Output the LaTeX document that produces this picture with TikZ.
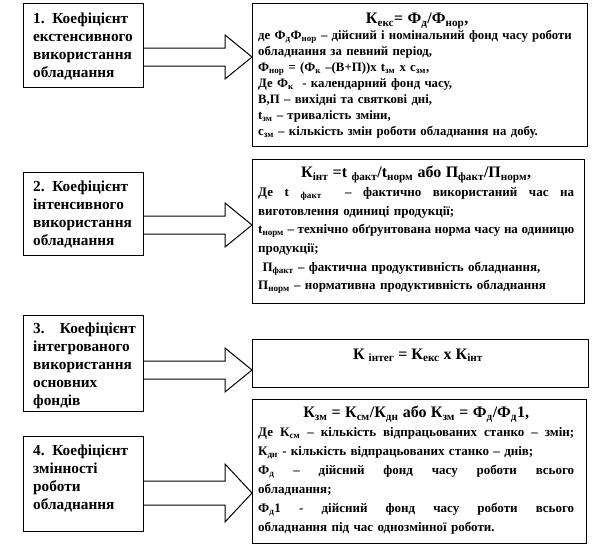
\documentclass[tikz,border=0pt]{standalone}
\usepackage{fontspec}
\setmainfont{Liberation Serif}
\usetikzlibrary{calc}
\newcommand\lo[1]{\textsubscript{#1}}
\newcommand\jl[2]{\leavevmode\hbox to #1{\spaceskip=0.25em plus 1fil\relax #2}}
\newcommand\blockarrow[5]{%
  \coordinate (tmpy) at (0,#3);
  \draw[barrow] ($(#1.east|-tmpy)+(0,-#4)$) -- ($(#2.west|-tmpy)+(-27,-#4)$)
    -- ($(#2.west|-tmpy)+(-27,-#5)$) -- (#2.west|-tmpy)
    -- ($(#2.west|-tmpy)+(-27,#5)$) -- ($(#2.west|-tmpy)+(-27,#4)$)
    -- ($(#1.east|-tmpy)+(0,#4)$);}
\begin{document}
\begin{tikzpicture}[x=1pt,y=-1pt,
  box/.style={draw, line width=1pt, inner sep=0, anchor=north west},
  barrow/.style={draw, line width=1pt, fill=white},
  ltext/.style={anchor=north west, inner sep=0, align=left, text width=110pt,
    font=\fontsize{15.3}{17.9}\selectfont\bfseries},
  rtext/.style={anchor=north west, inner sep=0, align=left, text width=318pt,
    font=\fontsize{12.8}{16}\selectfont\bfseries},
  rtextb/.style={rtext, font=\fontsize{13}{18.7}\selectfont\bfseries},
  rtextc/.style={rtext, font=\fontsize{13}{19}\selectfont\bfseries},
  title/.style={font=\fontsize{16}{16}\selectfont\bfseries}]
\useasboundingbox (0,0) rectangle (612,546);
\fill[white] (0,0) rectangle (612,546);
% left boxes
\node[box, minimum width=120pt, minimum height=84pt] (l1) at (23,3) {};
\node[box, minimum width=120pt, minimum height=83pt] (l2) at (23,172) {};
\node[box, minimum width=120pt, minimum height=96pt] (l3) at (23,315) {};
\node[box, minimum width=120pt, minimum height=95pt] (l4) at (23,436) {};
% right boxes
\node[box, minimum width=335pt, minimum height=143pt] (r1) at (252,3) {};
\node[box, minimum width=332pt, minimum height=144pt] (r2) at (252,159) {};
\node[box, minimum width=336pt, minimum height=48pt] (r3) at (252,339) {};
\node[box, minimum width=334pt, minimum height=144pt] (r4) at (252,399) {};
% left texts
\node[ltext] (t1) at (33,13) {1. Коефіцієнт\\екстенсивного\\використання\\обладнання};
\node[ltext] (t2) at (33,181) {2. Коефіцієнт\\інтенсивного\\використання\\обладнання};
\node[ltext] (t3) at (33,323) {\jl{100pt}{3.\ \ \ \ Коефіцієнт}\\інтегрованого\\використання\\основних\\фондів};
\node[ltext] (t4) at (33,445) {4. Коефіцієнт\\змінності\\роботи\\обладнання};
% right texts
\node[rtext] (s1) at (258,13) {%
\makebox[318pt][c]{\fontsize{16}{16}\selectfont К\lo{екс}= Ф\lo{д}/Ф\lo{нор},}\\
де Ф\lo{д}Ф\lo{нор} – дійсний і номінальний фонд часу роботи\\
обладнання за певний період,\\
Ф\lo{нор} = (Ф\lo{к} –(В+П))х t\lo{зм} х с\lo{зм},\\
Де Ф\lo{к}\ \ - календарний фонд часу,\\
В,П – вихідні та святкові дні,\\
t\lo{зм} – тривалість зміни,\\
с\lo{зм} – кількість змін роботи обладнання на добу.};
\node[rtextb] (s2) at (258,166) {%
\makebox[316pt][c]{\fontsize{16}{16}\selectfont К\lo{інт} =t \lo{факт}/t\lo{норм} або П\lo{факт}/П\lo{норм},}\\
\jl{316pt}{Де t \lo{факт} \ – фактично використаний час на}\\
виготовлення одиниці продукції;\\
\jl{316pt}{t\lo{норм} – технічно обґрунтована норма часу на одиницю}\\
продукції;\\
\ П\lo{факт} – фактична продуктивність обладнання,\\
П\lo{норм} – нормативна продуктивність обладнання};
\node[anchor=base, inner sep=0, title] (s3) at (418,359) {К \lo{інтег} = К\lo{екс} х К\lo{інт}};
\node[rtextc] (s4) at (258,406) {%
\makebox[316pt][c]{\fontsize{16}{16}\selectfont К\lo{зм} = К\lo{см}/К\lo{дн} або К\lo{зм} = Ф\lo{д}/Ф\lo{д}1,}\\
\jl{316pt}{Де К\lo{см} – кількість відпрацьованих станко – змін;}\\
К\lo{дн} - кількість відпрацьованих станко – днів;\\
\jl{316pt}{Ф\lo{д} – дійсний фонд часу роботи всього}\\
обладнання;\\
\jl{316pt}{Ф\lo{д}1 - дійсний фонд часу роботи всього}\\
обладнання під час однозмінної роботи.};
% block arrows
\blockarrow{l1}{r1}{57}{9}{22}
\blockarrow{l2}{r2}{225}{9}{22}
\blockarrow{l3}{r3}{370}{9}{22}
\blockarrow{l4}{r4}{493}{12}{29}
\end{tikzpicture}
\end{document}
